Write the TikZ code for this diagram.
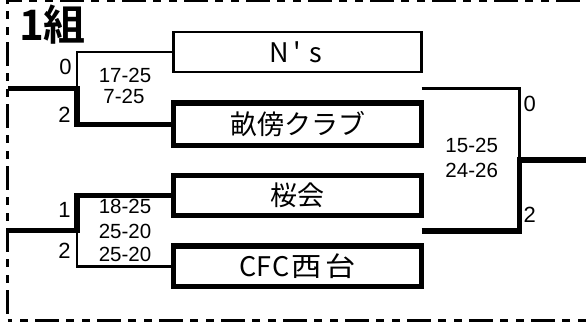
\documentclass[tikz,border=0pt]{standalone}
\usepackage{fontspec}
\usepackage{graphicx}
\setmainfont{Liberation Sans}
\newfontfamily\jp{Noto Sans CJK JP}[BoldFont={Noto Sans CJK JP Bold}]
\newcommand{\hw}[2][16.5pt]{\makebox[#1][c]{#2}}
\begin{document}
\begin{tikzpicture}[x=1pt,y=-1pt,
  bthin/.style={line width=2.5pt},
  bthick/.style={line width=5.5pt},
  border/.style={line width=3pt, dash pattern=on 24pt off 7pt on 8pt off 8pt on 8pt off 7pt},
  teambox/.style={draw, rectangle, inner sep=0pt, minimum width=247.8pt,
    font=\jp\fontsize{27}{27}\selectfont},
  seed/.style={inner sep=0pt, font=\fontsize{22}{22}\selectfont},
  score/.style={inner sep=0pt, font=\fontsize{20.5}{20.5}\selectfont}]
\useasboundingbox (0,0) rectangle (586,324);
% frame
\draw[border, dash phase=10pt] (7.5,0.2) -- (586,0.2);
\draw[border, dash phase=20pt] (7.5,0.2) -- (7.5,320);
\draw[border, dash phase=34.5pt] (7.5,320) -- (586,320);
% title
\node[anchor=base west, inner sep=0pt, font=\jp\bfseries\fontsize{42}{42}\selectfont] (title) at (19,40) {1組};
% team boxes
\node[teambox, bthin, minimum height=40pt] (ns) at (297.5,52.1) {\hw[18pt]{N}\hw[18pt]{'}\hw[18pt]{s}};
\node[teambox, bthick, minimum height=42.5pt] (un) at (297.6,124.3) {畝傍クラブ};
\node[teambox, bthick, minimum height=40pt] (sk) at (297.6,195.5) {桜会};
\node[teambox, bthick, minimum height=40.7pt] (cfc) at (297.6,266.3) {\hw{C}\hw{F}\hw{C}\hspace{2pt}\scalebox{1.12}[1]{西}\hspace{4pt}\scalebox{1.12}[1]{台}};
% junctions
\coordinate (a1) at (77,88.3);
\coordinate (l1) at (7.5,88.3);
\coordinate (a2) at (77,230.5);
\coordinate (l2) at (7.5,230.5);
\coordinate (r1) at (421.7,88.7);
\coordinate (r2) at (421.7,230.8);
\coordinate (b) at (519.5,160);
\coordinate (out) at (586,160);
% brackets
\draw[bthin] (ns.west) -| (a1);
\draw[bthick] (un.west) -| (a1) -- (l1);
\draw[bthick] (sk.west) -| (a2) -- (l2);
\draw[bthin] (cfc.west) -| (a2);
\draw[bthin] (r1) -| (b);
\draw[bthick] (r2) -| (b) -- (out);
% seed scores
\node[seed] (s1) at (65.5,66.5) {0};
\node[seed] (s2) at (64.5,114.5) {2};
\node[seed] (s3) at (64.5,210) {1};
\node[seed] (s4) at (64.5,251) {2};
\node[seed] (s5) at (529.7,104) {0};
\node[seed] (s6) at (529.7,215) {2};
% set scores
\node[score] (m1a) at (125,75) {17-25};
\node[score] (m1b) at (124,96) {7-25};
\node[score] (m2a) at (125,206) {18-25};
\node[score] (m2b) at (125,231) {25-20};
\node[score] (m2c) at (125,254.5) {25-20};
\node[score] (m3a) at (471.7,145.5) {15-25};
\node[score] (m3b) at (471.7,170) {24-26};
\end{tikzpicture}
\end{document}
